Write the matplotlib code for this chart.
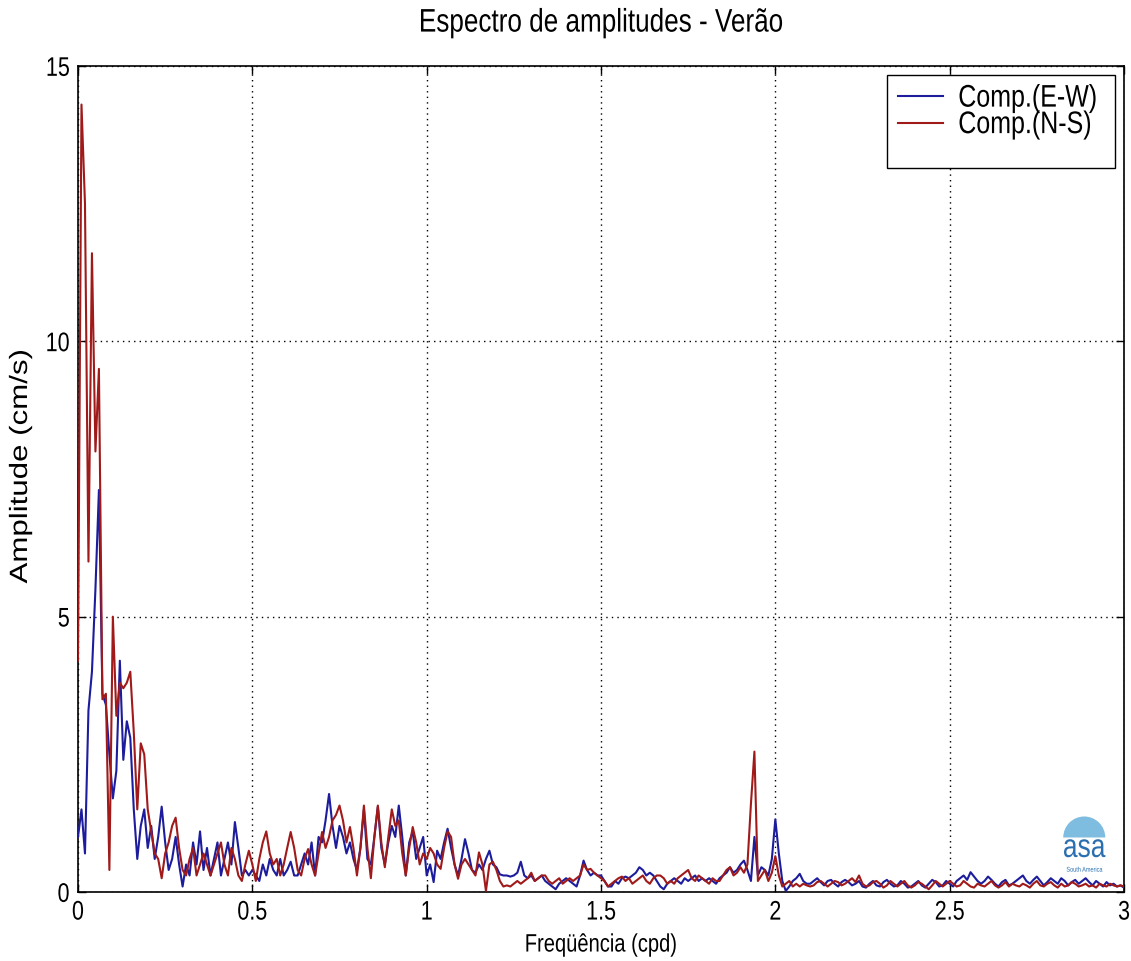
import numpy as np
import matplotlib
matplotlib.use("Agg")
import matplotlib.pyplot as plt
from matplotlib.lines import Line2D
from matplotlib.patches import Wedge
from matplotlib.patheffects import AbstractPathEffect
from matplotlib.transforms import Affine2D, ScaledTranslation
import matplotlib.text as mtext

# ---------------- data ----------------
freq_step = 0.01  # cpd

amp_ew = [
    1.0, 1.5, 0.7, 3.3, 4.0, 5.5, 7.3, 3.6, 3.4, 2.5,
    1.7, 2.2, 4.2, 2.4, 3.1, 2.8, 1.5, 0.6, 1.2, 1.5,
    0.8, 1.2, 0.6, 1.0, 1.55, 0.9, 0.4, 0.6, 1.0, 0.5,
    0.1, 0.5, 0.3, 0.9, 0.5, 1.1, 0.4, 0.8, 0.3, 0.6,
    0.9, 0.3, 0.6, 0.9, 0.5, 1.27, 0.8, 0.3, 0.4, 0.3,
    0.4, 0.3, 0.2, 0.5, 0.3, 0.6, 0.4, 0.3, 0.6, 0.3,
    0.4, 0.55, 0.3, 0.3, 0.5, 0.7, 0.5, 0.9, 0.3, 1.0,
    0.9, 1.3, 1.78, 1.2, 0.8, 1.2, 1.0, 0.7, 0.9, 0.6,
    0.4, 0.8, 1.5, 0.6, 0.5, 1.0, 1.55, 0.8, 0.5, 0.9,
    1.2, 1.0, 1.57, 1.0, 0.3, 0.9, 1.1, 0.6, 0.8, 1.0,
    0.3, 0.5, 0.18, 0.75, 0.6, 0.9, 1.15, 0.8, 0.5, 0.3,
    0.6, 0.96, 0.7, 0.4, 0.35, 0.5, 0.4, 0.6, 0.75, 0.5,
    0.45, 0.32, 0.3, 0.3, 0.28, 0.3, 0.35, 0.55, 0.3, 0.25,
    0.3, 0.2, 0.25, 0.3, 0.2, 0.15, 0.1, 0.05, 0.15, 0.2,
    0.25, 0.2, 0.15, 0.1, 0.3, 0.57, 0.4, 0.3, 0.35, 0.3,
    0.3, 0.2, 0.1, 0.1, 0.2, 0.15, 0.25, 0.28, 0.25, 0.3,
    0.35, 0.45, 0.4, 0.3, 0.35, 0.3, 0.2, 0.1, 0.05, 0.15,
    0.2, 0.25, 0.2, 0.15, 0.25, 0.2, 0.25, 0.3, 0.2, 0.25,
    0.2, 0.25, 0.2, 0.15, 0.25, 0.3, 0.35, 0.45, 0.35, 0.4,
    0.5, 0.57, 0.4, 0.2, 1.0, 0.3, 0.45, 0.4, 0.3, 0.6,
    1.32, 0.7, 0.2, 0.02, 0.1, 0.2, 0.25, 0.33, 0.2, 0.15,
    0.15, 0.2, 0.25, 0.18, 0.12, 0.2, 0.22, 0.15, 0.1, 0.18,
    0.22, 0.18, 0.12, 0.15, 0.2, 0.1, 0.08, 0.15, 0.2, 0.12,
    0.1, 0.18, 0.22, 0.15, 0.1, 0.12, 0.2, 0.15, 0.08, 0.1,
    0.15, 0.2, 0.12, 0.08, 0.15, 0.22, 0.18, 0.1, 0.12, 0.2,
    0.15, 0.1, 0.2, 0.25, 0.3, 0.22, 0.36, 0.28, 0.2, 0.15,
    0.2, 0.28, 0.22, 0.15, 0.1, 0.18, 0.22, 0.12, 0.15, 0.2,
    0.25, 0.3, 0.2, 0.15, 0.22, 0.28, 0.2, 0.12, 0.18, 0.25,
    0.2, 0.15, 0.25, 0.2, 0.12, 0.18, 0.22, 0.15, 0.2, 0.25,
    0.18, 0.12, 0.2, 0.15, 0.1, 0.18, 0.12, 0.15, 0.1, 0.12,
    0.08,
]

amp_ns = [
    4.2, 14.3, 12.5, 6.0, 11.6, 8.0, 9.5, 3.5, 3.6, 0.4,
    5.0, 3.2, 3.8, 3.7, 3.8, 4.0, 2.9, 1.5, 2.7, 2.5,
    1.5, 1.1, 0.7, 0.6, 0.25, 0.7, 0.9, 1.2, 1.35, 0.8,
    0.4, 0.3, 0.6, 0.8, 0.3, 0.5, 0.7, 0.5, 0.3, 0.5,
    0.7, 0.9, 0.5, 0.3, 0.8, 0.6, 0.3, 0.2, 0.5, 0.75,
    0.5, 0.2, 0.6, 0.9, 1.1, 0.7, 0.5, 0.6, 0.3, 0.5,
    0.8, 1.09, 0.8, 0.4, 0.3, 0.6, 0.78, 0.5, 0.3, 0.7,
    1.09, 0.8, 1.0, 1.3, 1.4, 1.57, 1.3, 0.9, 1.18, 0.8,
    0.3, 0.8, 1.57, 0.8, 0.25, 1.0, 1.57, 0.9, 0.45, 1.0,
    1.5, 1.2, 1.3, 0.7, 0.3, 0.8, 1.18, 0.9, 0.5, 0.7,
    0.6, 0.8, 0.7, 0.5, 0.42, 0.8, 1.1, 1.0, 0.5, 0.24,
    0.5, 0.6, 0.5, 0.4, 0.3, 0.72, 0.5, 0.02, 0.5, 0.55,
    0.4, 0.2, 0.1, 0.12, 0.1, 0.15, 0.2, 0.15, 0.2, 0.25,
    0.35, 0.2, 0.25, 0.3, 0.3, 0.2, 0.15, 0.2, 0.25, 0.15,
    0.2, 0.25, 0.2, 0.25, 0.3, 0.5, 0.4, 0.42, 0.35, 0.3,
    0.25, 0.2, 0.1, 0.15, 0.2, 0.25, 0.28, 0.2, 0.25, 0.15,
    0.2, 0.25, 0.3, 0.2, 0.15, 0.25, 0.3, 0.3, 0.25, 0.15,
    0.2, 0.15, 0.25, 0.3, 0.35, 0.4, 0.25, 0.2, 0.3, 0.25,
    0.2, 0.15, 0.25, 0.2, 0.2, 0.3, 0.4, 0.45, 0.3, 0.35,
    0.45, 0.35, 0.5, 1.6, 2.55, 0.2, 0.3, 0.4, 0.2, 0.35,
    0.65, 0.3, 0.1, 0.15, 0.2, 0.1, 0.15, 0.1, 0.15, 0.12,
    0.1, 0.12, 0.18, 0.2, 0.15, 0.1, 0.15, 0.2, 0.18, 0.12,
    0.15, 0.2, 0.25, 0.18, 0.3, 0.15, 0.1, 0.12, 0.18, 0.2,
    0.15, 0.08, 0.12, 0.2, 0.15, 0.1, 0.15, 0.2, 0.12, 0.08,
    0.12, 0.18, 0.15, 0.1, 0.05, 0.12, 0.2, 0.15, 0.1, 0.15,
    0.2, 0.15, 0.1, 0.12, 0.2, 0.15, 0.1, 0.08, 0.15, 0.12,
    0.1, 0.15, 0.2, 0.12, 0.08, 0.12, 0.18, 0.1, 0.15, 0.12,
    0.1, 0.15, 0.12, 0.08, 0.15, 0.2, 0.12, 0.1, 0.15, 0.18,
    0.12, 0.08, 0.15, 0.1, 0.12, 0.18, 0.15, 0.1, 0.12, 0.15,
    0.1, 0.12, 0.08, 0.15, 0.12, 0.1, 0.15, 0.12, 0.1, 0.12,
    0.1,
]

series_labels = ["Comp.(E-W)", "Comp.(N-S)"]
x_ticks = [0, 0.5, 1, 1.5, 2, 2.5, 3]
x_ticklabels = ["0", "0.5", "1", "1.5", "2", "2.5", "3"]
y_ticks = [0, 5, 10, 15]
y_ticklabels = ["0", "5", "10", "15"]
title_text = "Espectro de amplitudes - Verão"
xlabel_text = "Freqüência (cpd)"
ylabel_text = "Amplitude (cm/s)"

freq = np.arange(len(amp_ew)) * freq_step


# ---------------- style ----------------
class VStretch(AbstractPathEffect):
    """Stretch text glyphs vertically (screen y) about their centre."""

    def __init__(self, s):
        super().__init__()
        self.s = s

    def draw_path(self, renderer, gc, tpath, affine, rgbFace=None):
        ext = tpath.get_extents(affine)
        cx = ext.x0 + ext.width / 2
        cy = ext.y0 + ext.height / 2
        tr = affine + Affine2D().translate(-cx, -cy).scale(1, self.s).translate(cx, cy)
        renderer.draw_path(gc, tpath, tr, rgbFace)


plt.rcParams["font.family"] = ["Liberation Sans", "DejaVu Sans"]

W, H = 1131, 962
fig = plt.figure(figsize=(W / 100, H / 100), dpi=100)
ax = fig.add_axes([78 / W, 1 - 893 / H, (1124 - 78) / W, (893 - 67) / H])

c_ew = "#1c1c9c"
c_ns = "#a01a1a"
ax.plot(freq, amp_ew, color=c_ew, lw=1.5, label=series_labels[0], zorder=3)
ax.plot(freq, amp_ns, color=c_ns, lw=1.5, label=series_labels[1], zorder=3)

ax.set_xlim(0, 3)
ax.set_ylim(0, 15)
ax.set_xticks(x_ticks)
ax.set_xticklabels(x_ticklabels)
ax.set_yticks(y_ticks)
ax.set_yticklabels(y_ticklabels)
ax.tick_params(direction="in", top=True, right=True, length=6, width=1,
               labelsize=15.5)
ax.tick_params(axis="y", pad=6)
ax.tick_params(axis="x", pad=7)
ax.grid(True, color="black", linestyle=(0, (1, 3)), linewidth=1)
for s in ax.spines.values():
    s.set_linewidth(1.2)
    s.set_color("black")

ax.set_title(title_text, fontsize=18.8, pad=26)
ax.set_xlabel(xlabel_text, fontsize=14.5, labelpad=9)
ax.set_ylabel(ylabel_text, fontsize=18)
ax.yaxis.set_label_coords(-0.044, 0.515)

handles = [Line2D([], [], color=c_ew, lw=1.5), Line2D([], [], color=c_ns, lw=1.5),
           Line2D([], [], color="none")]
labels = [lab + " " for lab in series_labels] + [" "]
leg = ax.legend(handles, labels, loc="upper right",
                fontsize=18, frameon=True, fancybox=False, edgecolor="black",
                framealpha=1, borderpad=0.45, handlelength=1.8, handletextpad=0.6,
                labelspacing=0.1, borderaxespad=0.35)
leg.get_frame().set_linewidth(1.0)
leg.get_texts()[2].set_fontsize(1)

# logo watermark (asa - South America)
logo_tr = fig.dpi_scale_trans + ScaledTranslation(0.962, 0.066, ax.transAxes)
ax.add_patch(Wedge((0, 0), 0.21, 0, 180, transform=logo_tr,
                   facecolor="#7fbde0", edgecolor="none", zorder=2))
ax.text(0.962, 0.053, "asa", transform=ax.transAxes, ha="center", va="center",
        color="#2a6fb0", fontsize=19, zorder=4)
ax.text(0.962, 0.027, "South America", transform=ax.transAxes, ha="center",
        va="center", color="#2a6fb0", fontsize=4, zorder=4)

for t in fig.findobj(mtext.Text):
    t.set_path_effects([VStretch(1.25)])

fig.savefig("out.png", dpi=100)
